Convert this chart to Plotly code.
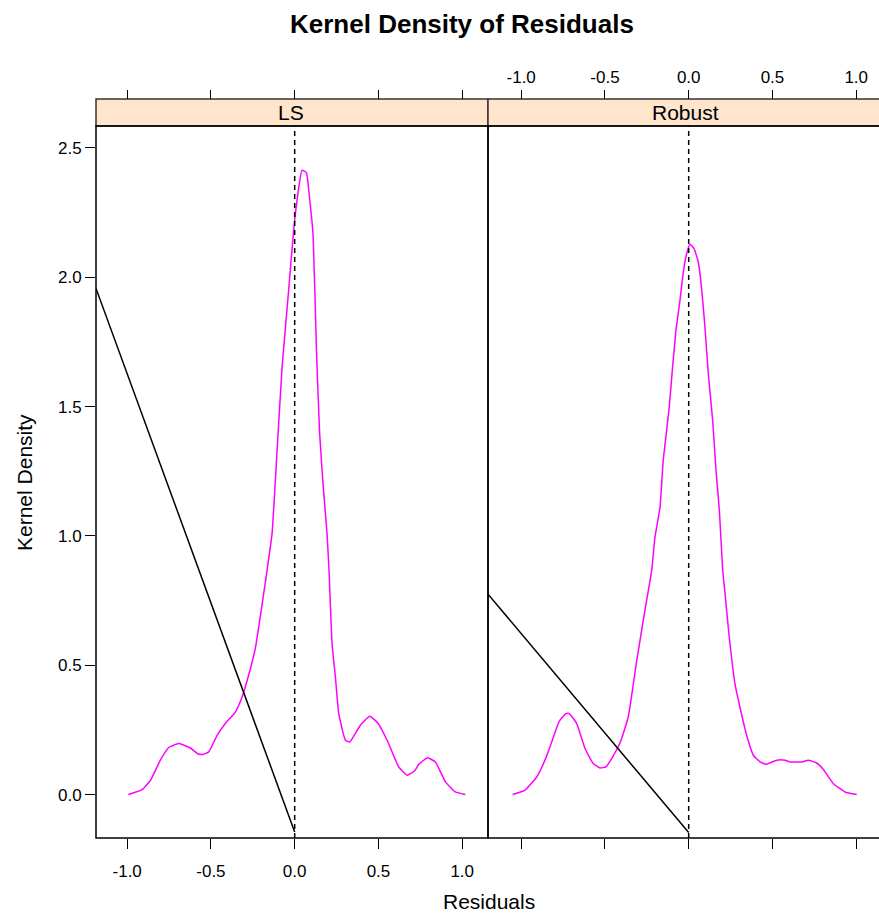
import plotly.graph_objects as go

# ---- data ----
ls_x = [-0.993, -0.911, -0.861, -0.802, -0.752, -0.692, -0.623, -0.579, -0.547, -0.513,
        -0.463, -0.414, -0.354, -0.314, -0.275, -0.235, -0.185, -0.165, -0.135, -0.105,
        -0.075, -0.036, -0.006, 0.014, 0.044, 0.070, 0.090, 0.110, 0.130, 0.149, 0.169,
        0.193, 0.205, 0.223, 0.243, 0.263, 0.303, 0.328, 0.392, 0.448, 0.496, 0.552,
        0.621, 0.671, 0.715, 0.741, 0.794, 0.840, 0.900, 0.959, 1.019]
ls_y = [0.000, 0.019, 0.055, 0.133, 0.182, 0.197, 0.180, 0.158, 0.155, 0.165,
        0.229, 0.275, 0.319, 0.377, 0.461, 0.565, 0.777, 0.867, 1.009, 1.331,
        1.654, 1.950, 2.182, 2.298, 2.414, 2.404, 2.298, 2.163, 1.718, 1.396, 1.203,
        1.009, 0.867, 0.584, 0.455, 0.313, 0.210, 0.203, 0.268, 0.303, 0.277, 0.210,
        0.107, 0.075, 0.091, 0.117, 0.142, 0.126, 0.049, 0.010, 0.000]

rob_x = [-1.051, -0.977, -0.907, -0.858, -0.818, -0.773, -0.733, -0.713, -0.669, -0.619,
         -0.570, -0.530, -0.494, -0.460, -0.408, -0.361, -0.310, -0.261, -0.221, -0.201,
         -0.171, -0.152, -0.116, -0.096, -0.076, -0.052, -0.032, -0.012, 0.008, 0.032,
         0.057, 0.078, 0.097, 0.117, 0.143, 0.163, 0.183, 0.203, 0.217, 0.242, 0.276,
         0.310, 0.346, 0.386, 0.426, 0.461, 0.525, 0.575, 0.605, 0.675, 0.714, 0.764,
         0.804, 0.863, 0.933, 1.003]
rob_y = [0.000, 0.017, 0.068, 0.133, 0.203, 0.283, 0.313, 0.313, 0.275, 0.178,
         0.120, 0.103, 0.107, 0.139, 0.203, 0.300, 0.519, 0.713, 0.867, 0.996,
         1.112, 1.293, 1.499, 1.654, 1.795, 1.911, 2.021, 2.092, 2.128, 2.111,
         2.060, 1.950, 1.808, 1.628, 1.447, 1.254, 1.099, 0.867, 0.777, 0.609, 0.429,
         0.326, 0.229, 0.152, 0.126, 0.117, 0.133, 0.133, 0.126, 0.126, 0.133, 0.122,
         0.097, 0.043, 0.010, 0.000]

ls_line_x = [-1.186, 0.0]
ls_line_y = [1.957, -0.145]
rob_line_x = [-1.198, 0.0]
rob_line_y = [0.775, -0.147]

x_ticks = [-1.0, -0.5, 0.0, 0.5, 1.0]
x_tick_labels = ["-1.0", "-0.5", "0.0", "0.5", "1.0"]
y_ticks = [0.0, 0.5, 1.0, 1.5, 2.0, 2.5]
y_tick_labels = ["0.0", "0.5", "1.0", "1.5", "2.0", "2.5"]
panel_names = ["LS", "Robust"]

# ---- figure ----
FONT = "Liberation Sans, Arial, sans-serif"
MAG = "#FF00FF"
W, H = 879, 914
ML, MR, MT, MB = 96, 0, 99, 76
PW = W - ML - MR
PH = H - MT - MB
split = (488 - ML) / PW
ytop = (838 - 126) / PH  # top of panels in paper coords

fig = go.Figure()
curve_line = dict(color=MAG, width=1.5, shape="spline", smoothing=0.4)
fig.add_trace(go.Scatter(x=ls_x, y=ls_y, mode="lines", line=curve_line,
                         xaxis="x", yaxis="y", showlegend=False, hoverinfo="skip"))
fig.add_trace(go.Scatter(x=ls_line_x, y=ls_line_y, mode="lines", line=dict(color="black", width=1.5),
                         xaxis="x", yaxis="y", showlegend=False, hoverinfo="skip"))
fig.add_trace(go.Scatter(x=rob_x, y=rob_y, mode="lines", line=curve_line,
                         xaxis="x2", yaxis="y", showlegend=False, hoverinfo="skip"))
fig.add_trace(go.Scatter(x=rob_line_x, y=rob_line_y, mode="lines", line=dict(color="black", width=1.5),
                         xaxis="x2", yaxis="y", showlegend=False, hoverinfo="skip"))
# dummy traces for the top axes
fig.add_trace(go.Scatter(x=[0], y=[None], mode="lines", xaxis="x3", yaxis="y",
                         showlegend=False, hoverinfo="skip"))
fig.add_trace(go.Scatter(x=[0], y=[None], mode="lines", xaxis="x4", yaxis="y",
                         showlegend=False, hoverinfo="skip"))

ax_common = dict(showgrid=False, zeroline=False, showline=False, ticks="outside",
                 tickcolor="black", tickwidth=1, tickvals=x_ticks, ticktext=x_tick_labels,
                 tickfont=dict(family=FONT, size=17, color="black"))
r1 = [-1.186, 1.154]
r2 = [-1.198, 1.136]

fig.update_layout(
    width=W, height=H, margin=dict(l=ML, r=MR, t=MT, b=MB),
    paper_bgcolor="white", plot_bgcolor="white",
    xaxis=dict(domain=[0, split], range=r1, anchor="y", side="bottom", ticklen=10,
               showticklabels=True, ticklabelstandoff=8, **ax_common),
    xaxis2=dict(domain=[split, 1], range=r2, anchor="y", side="bottom", ticklen=10,
                showticklabels=False, **ax_common),
    xaxis3=dict(domain=[0, split], range=r1, anchor="free", overlaying="x", position=1,
                side="top", ticklen=9, showticklabels=False, **ax_common),
    xaxis4=dict(domain=[split, 1], range=r2, anchor="free", overlaying="x2", position=1,
                side="top", ticklen=9, showticklabels=True, **ax_common),
    yaxis=dict(domain=[0, ytop], range=[-0.168, 2.585], anchor="x", showgrid=False,
               zeroline=False, showline=False, ticks="outside", ticklen=10, tickcolor="black",
               tickvals=y_ticks, ticktext=y_tick_labels,
               tickfont=dict(family=FONT, size=17, color="black")),
)

shapes = []
# dashed zero lines
for xr in ["x", "x2"]:
    shapes.append(dict(type="line", xref=xr, yref="y domain", x0=0, x1=0, y0=0, y1=1,
                       line=dict(color="black", width=1.5, dash="5px,4px")))
# strips
shapes.append(dict(type="rect", xref="paper", yref="paper", x0=0, x1=split, y0=ytop, y1=1,
                   fillcolor="#FFE5CC", line=dict(color="#3a3330", width=1.5), layer="below"))
shapes.append(dict(type="rect", xref="paper", yref="paper", x0=split, x1=1.01, y0=ytop, y1=1,
                   fillcolor="#FFE5CC", line=dict(color="#3a3330", width=1.5), layer="below"))
# panel frames
shapes.append(dict(type="rect", xref="paper", yref="paper", x0=0, x1=split, y0=0, y1=ytop,
                   line=dict(color="black", width=1.5)))
shapes.append(dict(type="rect", xref="paper", yref="paper", x0=split, x1=1.01, y0=0, y1=ytop,
                   line=dict(color="black", width=1.5)))
fig.update_layout(shapes=shapes)

ann = []
strip_mid = (ytop + 1) / 2
ann.append(dict(text=panel_names[0], xref="paper", yref="paper", x=(291.3 - ML) / PW, y=strip_mid,
                showarrow=False, xanchor="center", yanchor="middle",
                font=dict(family=FONT, size=21, color="black")))
ann.append(dict(text=panel_names[1], xref="paper", yref="paper", x=(685.7 - ML) / PW, y=strip_mid,
                showarrow=False, xanchor="center", yanchor="middle",
                font=dict(family=FONT, size=21, color="black")))
ann.append(dict(text="<b>Kernel Density of Residuals</b>", xref="paper", yref="paper",
                x=(462 - ML) / PW, y=1 + (MT - 24) / PH, showarrow=False,
                xanchor="center", yanchor="middle", font=dict(family=FONT, size=26, color="black")))
ann.append(dict(text="Kernel Density", xref="paper", yref="paper",
                x=(24 - ML) / PW, y=(838 - 483) / PH, showarrow=False, textangle=-90,
                xanchor="center", yanchor="middle", font=dict(family=FONT, size=21, color="black")))
ann.append(dict(text="Residuals", xref="paper", yref="paper",
                x=(489 - ML) / PW, y=(838 - 901) / PH, showarrow=False,
                xanchor="center", yanchor="middle", font=dict(family=FONT, size=21, color="black")))
fig.update_layout(annotations=ann)

fig.write_html("out.html")
